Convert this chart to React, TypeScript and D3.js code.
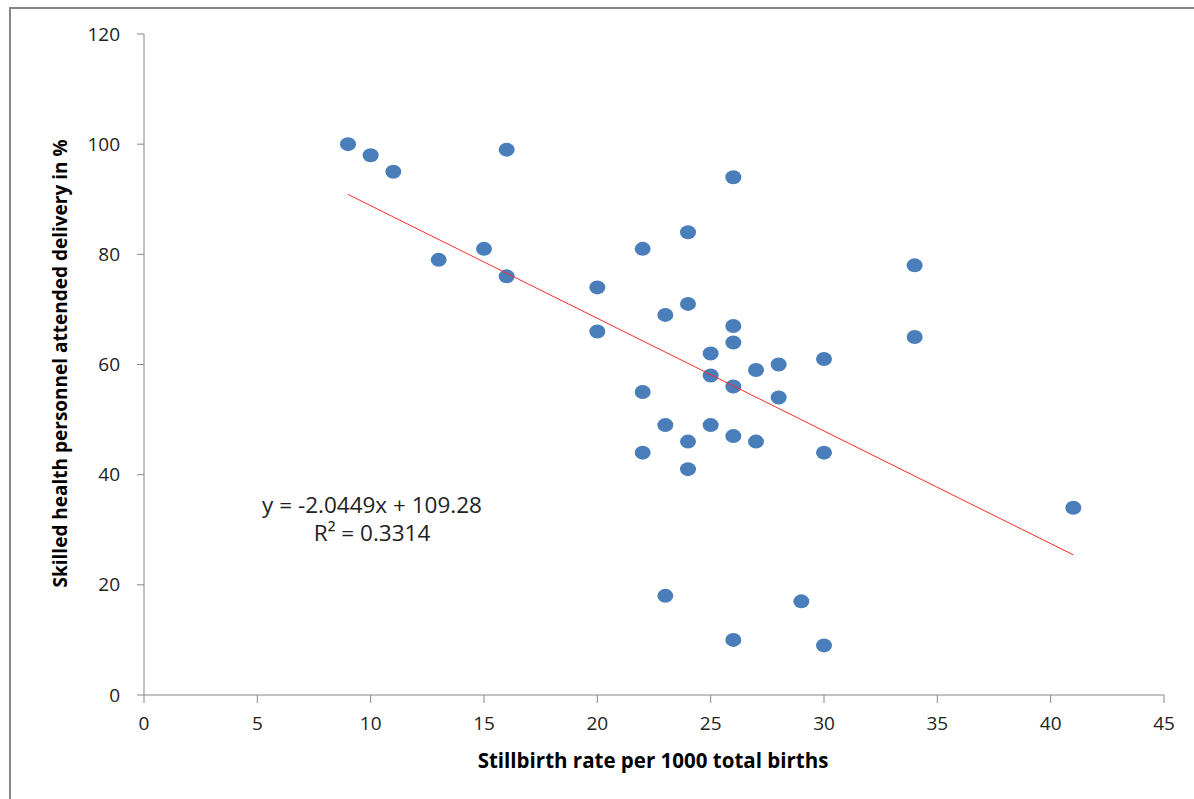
import React from 'react';
import * as d3 from 'd3';

// stillbirth rate per 1000 total births
const stillbirthRate = [
  9, 10, 11, 16, 26, 15, 13, 16, 22, 24, 20, 20, 23, 24, 26, 26, 25, 25, 26, 27,
  28, 28, 30, 34, 34, 22, 22, 23, 24, 24, 25, 26, 27, 30, 41, 23, 29, 26, 30,
];
// skilled health personnel attended delivery (%)
const skilledDelivery = [
  100, 98, 95, 99, 94, 81, 79, 76, 81, 84, 74, 66, 69, 71, 67, 64, 62, 58, 56, 59,
  60, 54, 61, 78, 65, 55, 44, 49, 46, 41, 49, 47, 46, 44, 34, 18, 17, 10, 9,
];
const xTicks = [0, 5, 10, 15, 20, 25, 30, 35, 40, 45];
const yTicks = [0, 20, 40, 60, 80, 100, 120];
const slope = -2.0449;
const intercept = 109.28;

const W = 1194;
const H = 799;
const font = "'Open Sans', 'Liberation Sans', sans-serif";

export default function App() {
  const x = d3.scaleLinear().domain([0, 45]).range([144, 1164]);
  const y = d3.scaleLinear().domain([0, 120]).range([695, 34]);
  const axisColor = '#868686';

  const xMin = d3.min(stillbirthRate)!;
  const xMax = d3.max(stillbirthRate)!;
  const trend = d3.line<number>()
    .x((d) => x(d))
    .y((d) => y(slope * d + intercept));

  return (
    <div style={{ position: 'fixed', left: 0, top: 0 }}>
      <svg width={W} height={H} style={{ display: 'block', background: '#fff' }}>
        <rect x={10} y={8} width={W + 10} height={H + 10} fill="#fff" stroke="#888" strokeWidth={2} />

        {/* y axis */}
        <line x1={x(0)} x2={x(0)} y1={y(120)} y2={y(0)} stroke={axisColor} strokeWidth={1} />
        {yTicks.map((t) => (
          <g key={`y-${t}`}>
            <line x1={x(0) - 7} x2={x(0)} y1={y(t)} y2={y(t)} stroke={axisColor} />
            <text x={120} y={y(t)} dy="0.35em" textAnchor="end" fontFamily={font} fontSize={19} fill="#222">
              {t}
            </text>
          </g>
        ))}

        {/* x axis */}
        <line x1={x(0)} x2={x(45)} y1={y(0)} y2={y(0)} stroke={axisColor} strokeWidth={1} />
        {xTicks.map((t) => (
          <g key={`x-${t}`}>
            <line x1={x(t)} x2={x(t)} y1={y(0)} y2={y(0) + 8} stroke={axisColor} />
            <text x={x(t)} y={723} dy="0.35em" textAnchor="middle" fontFamily={font} fontSize={19} fill="#222">
              {t}
            </text>
          </g>
        ))}

        <text x={653} y={761} dy="0.35em" textAnchor="middle" fontFamily={font} fontSize={20.5} fontWeight="bold" fill="#000">
          Stillbirth rate per 1000 total births
        </text>
        <text
          transform={`translate(60, ${y(60) - 1}) rotate(-90)`}
          dy="0.35em"
          textAnchor="middle"
          fontFamily={font}
          fontSize={19}
          fontWeight="bold"
          fill="#000"
        >
          Skilled health personnel attended delivery in %
        </text>

        {/* points */}
        {stillbirthRate.map((d, i) => (
          <ellipse key={`p-${i}`} cx={x(d)} cy={y(skilledDelivery[i])} rx={8} ry={7} fill="#4a7ebb" />
        ))}

        {/* linear trend */}
        <path d={trend([xMin, xMax]) ?? ''} fill="none" stroke="#ff2a2a" strokeWidth={1} />

        <text x={372} y={505} dy="0.35em" textAnchor="middle" fontFamily={font} fontSize={22.5} fill="#222">
          y = -2.0449x + 109.28
        </text>
        <text x={372} y={533} dy="0.35em" textAnchor="middle" fontFamily={font} fontSize={22.5} fill="#222">
          R² = 0.3314
        </text>
      </svg>
    </div>
  );
}
